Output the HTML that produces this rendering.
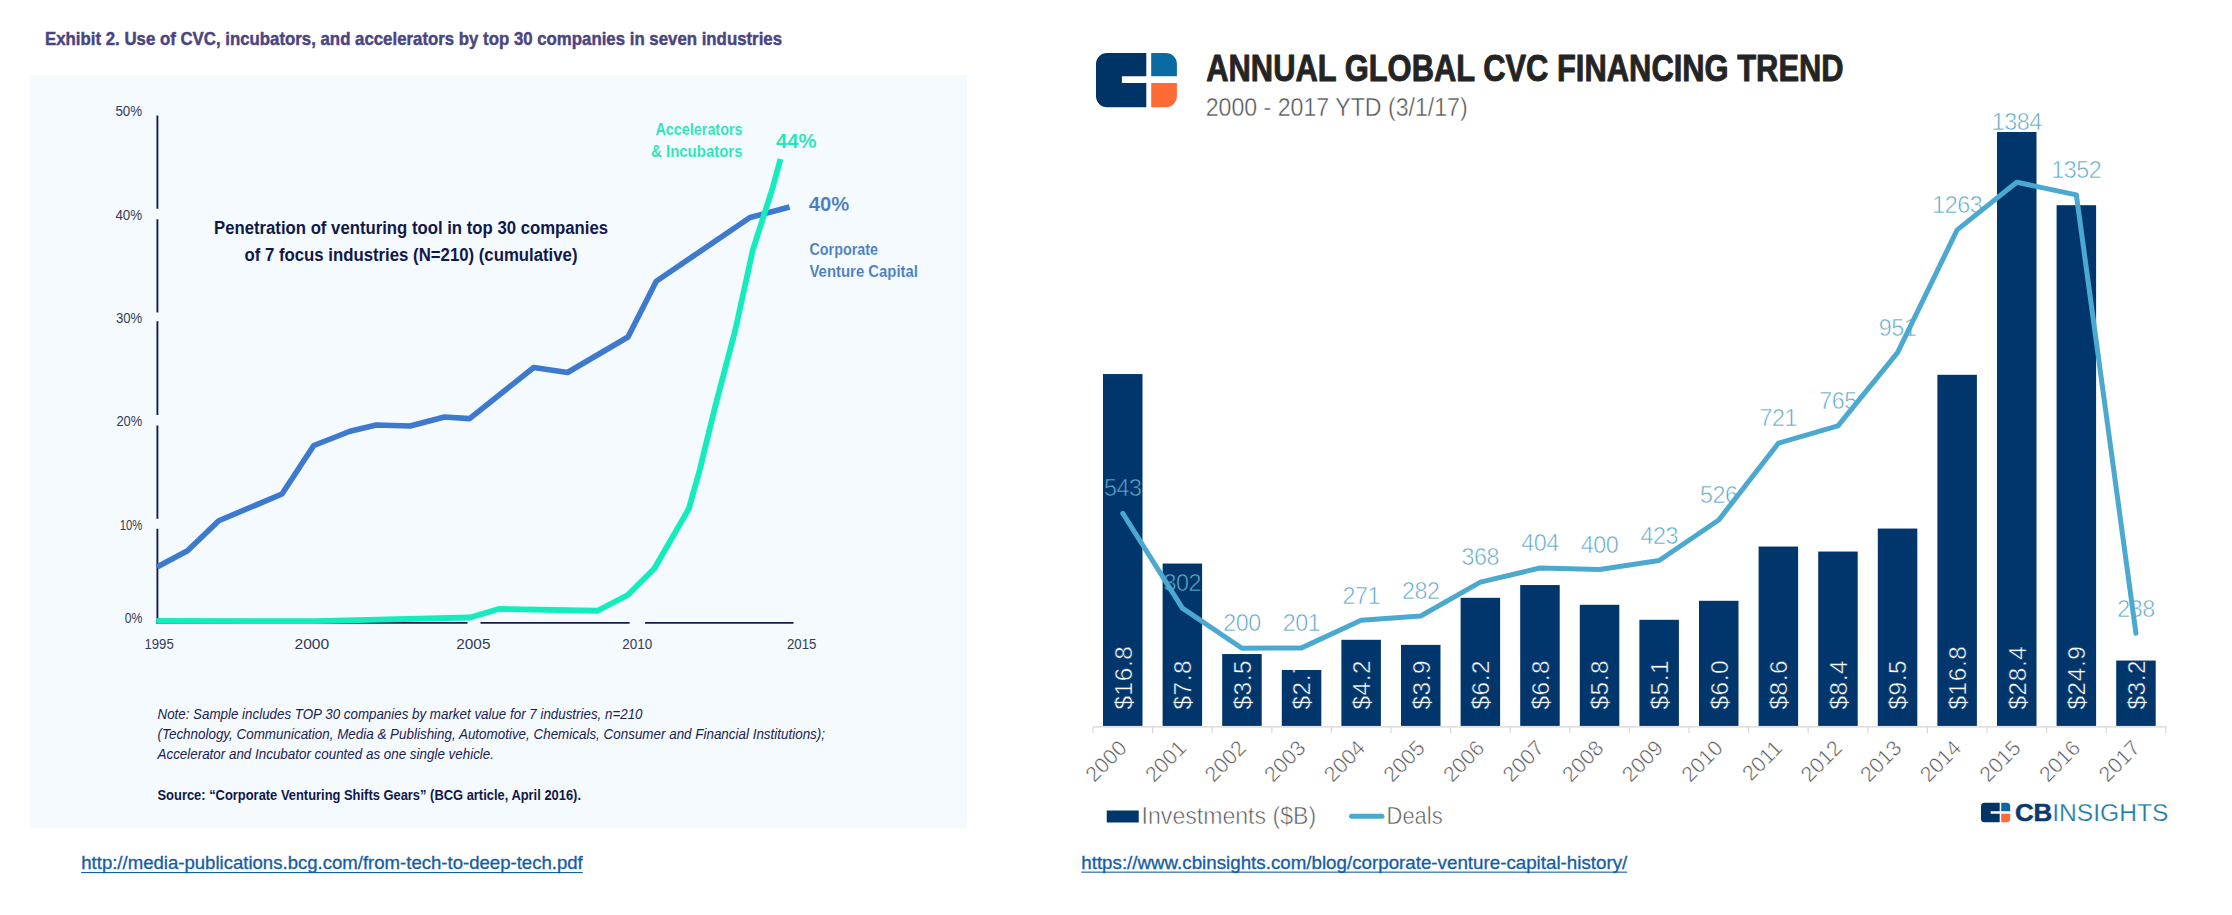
<!DOCTYPE html>
<html lang="en"><head><meta charset="utf-8"><title>CVC charts</title>
<style>html,body{margin:0;padding:0;background:#fff;overflow:hidden;width:2232px;height:915px}svg{display:block}</style></head>
<body>
<svg width="2232" height="915" viewBox="0 0 2232 915" font-family="'Liberation Sans', sans-serif">
<rect width="2232" height="915" fill="#ffffff"/>
<rect x="29.6" y="74.8" width="937.4" height="753.5" fill="#f5fafe"/>
<text x="45" y="44.9" font-size="18.6" fill="#4b457f" font-weight="bold" textLength="737" lengthAdjust="spacingAndGlyphs" stroke="#4b457f" stroke-width="0.45">Exhibit 2. Use of CVC, incubators, and accelerators by top 30 companies in seven industries</text>
<line x1="157.4" y1="115.5" x2="157.4" y2="208.75" stroke="#161c4e" stroke-width="1.9"/>
<line x1="157.4" y1="219.25" x2="157.4" y2="312.5" stroke="#161c4e" stroke-width="1.9"/>
<line x1="157.4" y1="321.25" x2="157.4" y2="415" stroke="#161c4e" stroke-width="1.9"/>
<line x1="157.4" y1="425.5" x2="157.4" y2="518.75" stroke="#161c4e" stroke-width="1.9"/>
<line x1="157.4" y1="528.75" x2="157.4" y2="624" stroke="#161c4e" stroke-width="1.9"/>
<line x1="156.3" y1="622.9" x2="467.5" y2="622.9" stroke="#161c4e" stroke-width="1.9"/>
<line x1="480.5" y1="622.9" x2="629.6" y2="622.9" stroke="#161c4e" stroke-width="1.9"/>
<line x1="645" y1="622.9" x2="793.5" y2="622.9" stroke="#161c4e" stroke-width="1.9"/>
<text x="115.4" y="116.45" font-size="14.1" fill="#363a56" textLength="26.85" lengthAdjust="spacingAndGlyphs">50%</text>
<text x="115.4" y="219.7" font-size="14.1" fill="#363a56" textLength="26.85" lengthAdjust="spacingAndGlyphs">40%</text>
<text x="115.9" y="322.7" font-size="14.1" fill="#363a56" textLength="26.35" lengthAdjust="spacingAndGlyphs">30%</text>
<text x="116.4" y="426.45" font-size="14.1" fill="#363a56" textLength="25.85" lengthAdjust="spacingAndGlyphs">20%</text>
<text x="119.65" y="530.2" font-size="14.1" fill="#363a56" textLength="22.6" lengthAdjust="spacingAndGlyphs">10%</text>
<text x="124.65" y="622.7" font-size="14.1" fill="#363a56" textLength="17.6" lengthAdjust="spacingAndGlyphs">0%</text>
<text x="144.5" y="648.8" font-size="14.3" fill="#363a56" textLength="29.25" lengthAdjust="spacingAndGlyphs">1995</text>
<text x="294.5" y="648.8" font-size="14.3" fill="#363a56" textLength="34.75" lengthAdjust="spacingAndGlyphs">2000</text>
<text x="456.25" y="648.8" font-size="14.3" fill="#363a56" textLength="34.25" lengthAdjust="spacingAndGlyphs">2005</text>
<text x="622.3" y="648.8" font-size="14.3" fill="#363a56" textLength="30.0" lengthAdjust="spacingAndGlyphs">2010</text>
<text x="787" y="648.8" font-size="14.3" fill="#363a56" textLength="29.5" lengthAdjust="spacingAndGlyphs">2015</text>
<polyline fill="none" stroke="#3d79cc" stroke-width="5.6" stroke-linejoin="round" points="157,567 187.5,550.75 218.75,520.75 282,494 313.75,445.5 350,431.25 376.25,425 410,426 444.5,417 469.6,418.6 533.75,367.5 567.5,372.5 628,337 656.25,281.25 750,217.5 789.5,207"/>
<polyline fill="none" stroke="#14ecbe" stroke-width="5.8" stroke-linejoin="round" points="156.3,620.9 315,621.2 470,617.5 498.75,609 597.5,610.75 627.8,595 654.2,568.8 688.8,508.9 699.7,470 715.2,406.5 735.3,330 752.9,249.6 772,190 780.5,159"/>
<text x="655.5" y="134.5" font-size="15.8" fill="#22e6b8" font-weight="bold" textLength="87" lengthAdjust="spacingAndGlyphs" stroke="#f5fafe" stroke-width="0.12">Accelerators</text>
<text x="651" y="156.5" font-size="15.8" fill="#22e6b8" font-weight="bold" textLength="91.5" lengthAdjust="spacingAndGlyphs" stroke="#f5fafe" stroke-width="0.12">&amp; Incubators</text>
<text x="776" y="148" font-size="20" fill="#22e6b8" font-weight="bold" textLength="40.5" lengthAdjust="spacingAndGlyphs" stroke="#f5fafe" stroke-width="0.12">44%</text>
<text x="808.75" y="210.5" font-size="20" fill="#477cc2" font-weight="bold" textLength="40.5" lengthAdjust="spacingAndGlyphs" stroke="#f5fafe" stroke-width="0.12">40%</text>
<text x="809.5" y="254.5" font-size="15.8" fill="#477cc2" font-weight="bold" textLength="68.5" lengthAdjust="spacingAndGlyphs" stroke="#f5fafe" stroke-width="0.12">Corporate</text>
<text x="809.5" y="276.7" font-size="15.8" fill="#477cc2" font-weight="bold" textLength="108.5" lengthAdjust="spacingAndGlyphs" stroke="#f5fafe" stroke-width="0.12">Venture Capital</text>
<text x="214" y="233.75" font-size="17.6" fill="#10184a" font-weight="bold" textLength="394" lengthAdjust="spacingAndGlyphs">Penetration of venturing tool in top 30 companies</text>
<text x="244.5" y="260.5" font-size="17.6" fill="#10184a" font-weight="bold" textLength="333" lengthAdjust="spacingAndGlyphs">of 7 focus industries (N=210) (cumulative)</text>
<text x="157.5" y="718.5" font-size="13.8" fill="#1a2150" font-style="italic" textLength="485" lengthAdjust="spacingAndGlyphs">Note: Sample includes TOP 30 companies by market value for 7 industries, n=210</text>
<text x="157.5" y="738.7" font-size="13.8" fill="#1a2150" font-style="italic" textLength="667.5" lengthAdjust="spacingAndGlyphs">(Technology, Communication, Media &amp; Publishing, Automotive, Chemicals, Consumer and Financial Institutions);</text>
<text x="157.5" y="758.6" font-size="13.8" fill="#1a2150" font-style="italic" textLength="336.5" lengthAdjust="spacingAndGlyphs">Accelerator and Incubator counted as one single vehicle.</text>
<text x="157.5" y="799.6" font-size="14.6" fill="#10184a" font-weight="bold" textLength="423.5" lengthAdjust="spacingAndGlyphs">Source: “Corporate Venturing Shifts Gears” (BCG article, April 2016).</text>
<text x="81.25" y="869.25" font-size="18.2" fill="#145ca5" textLength="501.5" lengthAdjust="spacingAndGlyphs" stroke="#145ca5" stroke-width="0.3">http://media-publications.bcg.com/from-tech-to-deep-tech.pdf</text>
<rect x="81.25" y="872" width="501.5" height="1.1" fill="#145ca5"/>
<path fill="#003366" d="M1107,53.1 H1146.3 V76.3 H1121.9045 V82.9 H1146.3 V107.2 H1107 A11,11 0 0 1 1096,96.2 V64.1 A11,11 0 0 1 1107,53.1 Z"/>
<path fill="#0a6ba3" d="M1151.2,53.1 H1165.9 A11,11 0 0 1 1176.9,64.1 V76.3 H1151.2 Z"/>
<path fill="#ff6b35" d="M1151.2,82.9 H1176.9 V96.2 A11,11 0 0 1 1165.9,107.2 H1151.2 Z"/>
<text x="1206.2" y="81.1" font-size="37.3" fill="#242424" font-weight="bold" textLength="637.5" lengthAdjust="spacingAndGlyphs" stroke="#242424" stroke-width="0.9" stroke-linejoin="round">ANNUAL GLOBAL CVC FINANCING TREND</text>
<text x="1205.7" y="115.75" font-size="25.4" fill="#555555" textLength="262" lengthAdjust="spacingAndGlyphs" stroke="#ffffff" stroke-width="0.4">2000 - 2017 YTD (3/1/17)</text>
<defs>
<clipPath id="cb"><rect x="1103.00" y="374.05" width="39.5" height="351.85"/><rect x="1162.60" y="563.55" width="39.5" height="162.35"/><rect x="1222.20" y="654.05" width="39.5" height="71.85"/><rect x="1281.80" y="670" width="39.5" height="55.90"/><rect x="1341.40" y="639.8" width="39.5" height="86.10"/><rect x="1401.00" y="644.9" width="39.5" height="81.00"/><rect x="1460.60" y="597.8" width="39.5" height="128.10"/><rect x="1520.20" y="585.05" width="39.5" height="140.85"/><rect x="1579.80" y="604.8" width="39.5" height="121.10"/><rect x="1639.40" y="619.8" width="39.5" height="106.10"/><rect x="1699.00" y="600.8" width="39.5" height="125.10"/><rect x="1758.60" y="546.55" width="39.5" height="179.35"/><rect x="1818.20" y="551.55" width="39.5" height="174.35"/><rect x="1877.80" y="528.55" width="39.5" height="197.35"/><rect x="1937.40" y="374.8" width="39.5" height="351.10"/><rect x="1997.00" y="132" width="39.5" height="593.90"/><rect x="2056.60" y="205.2" width="39.5" height="520.70"/><rect x="2116.20" y="660.55" width="39.5" height="65.35"/></clipPath>
<clipPath id="cn"><path clip-rule="evenodd" d="M1060,90H2232V760H1060Z M1103.00,374.05h39.5v351.85h-39.5Z M1162.60,563.55h39.5v162.35h-39.5Z M1222.20,654.05h39.5v71.85h-39.5Z M1281.80,670h39.5v55.90h-39.5Z M1341.40,639.8h39.5v86.10h-39.5Z M1401.00,644.9h39.5v81.00h-39.5Z M1460.60,597.8h39.5v128.10h-39.5Z M1520.20,585.05h39.5v140.85h-39.5Z M1579.80,604.8h39.5v121.10h-39.5Z M1639.40,619.8h39.5v106.10h-39.5Z M1699.00,600.8h39.5v125.10h-39.5Z M1758.60,546.55h39.5v179.35h-39.5Z M1818.20,551.55h39.5v174.35h-39.5Z M1877.80,528.55h39.5v197.35h-39.5Z M1937.40,374.8h39.5v351.10h-39.5Z M1997.00,132h39.5v593.90h-39.5Z M2056.60,205.2h39.5v520.70h-39.5Z M2116.20,660.55h39.5v65.35h-39.5Z"/></clipPath>
</defs>
<rect x="1103.00" y="374.05" width="39.5" height="351.85" fill="#00366b"/>
<rect x="1162.60" y="563.55" width="39.5" height="162.35" fill="#00366b"/>
<rect x="1222.20" y="654.05" width="39.5" height="71.85" fill="#00366b"/>
<rect x="1281.80" y="670" width="39.5" height="55.90" fill="#00366b"/>
<rect x="1341.40" y="639.8" width="39.5" height="86.10" fill="#00366b"/>
<rect x="1401.00" y="644.9" width="39.5" height="81.00" fill="#00366b"/>
<rect x="1460.60" y="597.8" width="39.5" height="128.10" fill="#00366b"/>
<rect x="1520.20" y="585.05" width="39.5" height="140.85" fill="#00366b"/>
<rect x="1579.80" y="604.8" width="39.5" height="121.10" fill="#00366b"/>
<rect x="1639.40" y="619.8" width="39.5" height="106.10" fill="#00366b"/>
<rect x="1699.00" y="600.8" width="39.5" height="125.10" fill="#00366b"/>
<rect x="1758.60" y="546.55" width="39.5" height="179.35" fill="#00366b"/>
<rect x="1818.20" y="551.55" width="39.5" height="174.35" fill="#00366b"/>
<rect x="1877.80" y="528.55" width="39.5" height="197.35" fill="#00366b"/>
<rect x="1937.40" y="374.8" width="39.5" height="351.10" fill="#00366b"/>
<rect x="1997.00" y="132" width="39.5" height="593.90" fill="#00366b"/>
<rect x="2056.60" y="205.2" width="39.5" height="520.70" fill="#00366b"/>
<rect x="2116.20" y="660.55" width="39.5" height="65.35" fill="#00366b"/>
<path d="M1093,726.9 H2166.4" stroke="#d6d4d4" stroke-width="1.2" fill="none"/>
<line x1="1093.00" y1="726.9" x2="1093.00" y2="733" stroke="#dad8d8" stroke-width="1.2"/>
<line x1="1152.60" y1="726.9" x2="1152.60" y2="733" stroke="#dad8d8" stroke-width="1.2"/>
<line x1="1212.20" y1="726.9" x2="1212.20" y2="733" stroke="#dad8d8" stroke-width="1.2"/>
<line x1="1271.80" y1="726.9" x2="1271.80" y2="733" stroke="#dad8d8" stroke-width="1.2"/>
<line x1="1331.40" y1="726.9" x2="1331.40" y2="733" stroke="#dad8d8" stroke-width="1.2"/>
<line x1="1391.00" y1="726.9" x2="1391.00" y2="733" stroke="#dad8d8" stroke-width="1.2"/>
<line x1="1450.60" y1="726.9" x2="1450.60" y2="733" stroke="#dad8d8" stroke-width="1.2"/>
<line x1="1510.20" y1="726.9" x2="1510.20" y2="733" stroke="#dad8d8" stroke-width="1.2"/>
<line x1="1569.80" y1="726.9" x2="1569.80" y2="733" stroke="#dad8d8" stroke-width="1.2"/>
<line x1="1629.40" y1="726.9" x2="1629.40" y2="733" stroke="#dad8d8" stroke-width="1.2"/>
<line x1="1689.00" y1="726.9" x2="1689.00" y2="733" stroke="#dad8d8" stroke-width="1.2"/>
<line x1="1748.60" y1="726.9" x2="1748.60" y2="733" stroke="#dad8d8" stroke-width="1.2"/>
<line x1="1808.20" y1="726.9" x2="1808.20" y2="733" stroke="#dad8d8" stroke-width="1.2"/>
<line x1="1867.80" y1="726.9" x2="1867.80" y2="733" stroke="#dad8d8" stroke-width="1.2"/>
<line x1="1927.40" y1="726.9" x2="1927.40" y2="733" stroke="#dad8d8" stroke-width="1.2"/>
<line x1="1987.00" y1="726.9" x2="1987.00" y2="733" stroke="#dad8d8" stroke-width="1.2"/>
<line x1="2046.60" y1="726.9" x2="2046.60" y2="733" stroke="#dad8d8" stroke-width="1.2"/>
<line x1="2106.20" y1="726.9" x2="2106.20" y2="733" stroke="#dad8d8" stroke-width="1.2"/>
<line x1="2165.80" y1="726.9" x2="2165.80" y2="733" stroke="#dad8d8" stroke-width="1.2"/>
<g clip-path="url(#cb)" font-size="24.4" fill="#ffffff" stroke="#00366b" stroke-width="0.45" letter-spacing="0.6">
<text transform="translate(1131.55,709.6) rotate(-90)">$16.8</text>
<text transform="translate(1191.15,709.6) rotate(-90)">$7.8</text>
<text transform="translate(1250.75,709.6) rotate(-90)">$3.5</text>
<text transform="translate(1310.35,709.6) rotate(-90)">$2.7</text>
<text transform="translate(1369.95,709.6) rotate(-90)">$4.2</text>
<text transform="translate(1429.55,709.6) rotate(-90)">$3.9</text>
<text transform="translate(1489.15,709.6) rotate(-90)">$6.2</text>
<text transform="translate(1548.75,709.6) rotate(-90)">$6.8</text>
<text transform="translate(1608.35,709.6) rotate(-90)">$5.8</text>
<text transform="translate(1667.95,709.6) rotate(-90)">$5.1</text>
<text transform="translate(1727.55,709.6) rotate(-90)">$6.0</text>
<text transform="translate(1787.15,709.6) rotate(-90)">$8.6</text>
<text transform="translate(1846.75,709.6) rotate(-90)">$8.4</text>
<text transform="translate(1906.35,709.6) rotate(-90)">$9.5</text>
<text transform="translate(1965.95,709.6) rotate(-90)">$16.8</text>
<text transform="translate(2025.55,709.6) rotate(-90)">$28.4</text>
<text transform="translate(2085.15,709.6) rotate(-90)">$24.9</text>
<text transform="translate(2144.75,709.6) rotate(-90)">$3.2</text>
</g>
<g clip-path="url(#cn)" font-size="23.3" fill="#5fa8c8" stroke="#ffffff" stroke-width="0.55" letter-spacing="-0.45" text-anchor="middle">
<text x="1122.75" y="496.48">543</text>
<text x="1182.35" y="591.33">302</text>
<text x="1241.95" y="631.48">200</text>
<text x="1301.55" y="631.09">201</text>
<text x="1361.15" y="603.53">271</text>
<text x="1420.75" y="599.20">282</text>
<text x="1480.35" y="565.36">368</text>
<text x="1539.95" y="551.19">404</text>
<text x="1599.55" y="552.76">400</text>
<text x="1659.15" y="543.71">423</text>
<text x="1718.75" y="503.17">526</text>
<text x="1778.35" y="426.41">721</text>
<text x="1837.95" y="409.10">765</text>
<text x="1897.55" y="335.89">951</text>
<text x="1957.15" y="213.08">1263</text>
<text x="2016.75" y="129.90">1384</text>
<text x="2076.35" y="178.05">1352</text>
<text x="2135.95" y="616.52">238</text>
</g>
<g clip-path="url(#cb)" font-size="23.3" fill="#5fa8c8" stroke="#00366b" stroke-width="0.55" letter-spacing="-0.45" text-anchor="middle">
<text x="1122.75" y="496.48">543</text>
<text x="1182.35" y="591.33">302</text>
<text x="1241.95" y="631.48">200</text>
<text x="1301.55" y="631.09">201</text>
<text x="1361.15" y="603.53">271</text>
<text x="1420.75" y="599.20">282</text>
<text x="1480.35" y="565.36">368</text>
<text x="1539.95" y="551.19">404</text>
<text x="1599.55" y="552.76">400</text>
<text x="1659.15" y="543.71">423</text>
<text x="1718.75" y="503.17">526</text>
<text x="1778.35" y="426.41">721</text>
<text x="1837.95" y="409.10">765</text>
<text x="1897.55" y="335.89">951</text>
<text x="1957.15" y="213.08">1263</text>
<text x="2016.75" y="129.90">1384</text>
<text x="2076.35" y="178.05">1352</text>
<text x="2135.95" y="616.52">238</text>
</g>
<polyline fill="none" stroke="#4ba9d0" stroke-width="5" stroke-linejoin="round" stroke-linecap="round" points="1122.75,513.28 1182.35,608.13 1241.95,648.28 1301.55,647.89 1361.15,620.33 1420.75,616.00 1480.35,582.16 1539.95,567.99 1599.55,569.56 1659.15,560.51 1718.75,519.97 1778.35,443.21 1837.95,425.90 1897.55,352.69 1957.15,229.88 2016.75,182.26 2076.35,194.85 2135.95,633.32"/>
<g font-size="21.5" fill="#595959" text-anchor="end" stroke="#ffffff" stroke-width="0.5">
<text transform="translate(1128.15,749.4) rotate(-45)">2000</text>
<text transform="translate(1187.75,749.4) rotate(-45)">2001</text>
<text transform="translate(1247.35,749.4) rotate(-45)">2002</text>
<text transform="translate(1306.95,749.4) rotate(-45)">2003</text>
<text transform="translate(1366.55,749.4) rotate(-45)">2004</text>
<text transform="translate(1426.15,749.4) rotate(-45)">2005</text>
<text transform="translate(1485.75,749.4) rotate(-45)">2006</text>
<text transform="translate(1545.35,749.4) rotate(-45)">2007</text>
<text transform="translate(1604.95,749.4) rotate(-45)">2008</text>
<text transform="translate(1664.55,749.4) rotate(-45)">2009</text>
<text transform="translate(1724.15,749.4) rotate(-45)">2010</text>
<text transform="translate(1783.75,749.4) rotate(-45)">2011</text>
<text transform="translate(1843.35,749.4) rotate(-45)">2012</text>
<text transform="translate(1902.95,749.4) rotate(-45)">2013</text>
<text transform="translate(1962.55,749.4) rotate(-45)">2014</text>
<text transform="translate(2022.15,749.4) rotate(-45)">2015</text>
<text transform="translate(2081.75,749.4) rotate(-45)">2016</text>
<text transform="translate(2141.35,749.4) rotate(-45)">2017</text>
</g>
<rect x="1106.75" y="810.5" width="32" height="12" fill="#00366b"/>
<text x="1141.6" y="823.9" font-size="24.2" fill="#595959" textLength="174.5" lengthAdjust="spacingAndGlyphs" stroke="#ffffff" stroke-width="0.55">Investments ($B)</text>
<line x1="1351.5" y1="816.3" x2="1382" y2="816.3" stroke="#4ba9d0" stroke-width="5" stroke-linecap="round"/>
<text x="1386.6" y="823.9" font-size="24.2" fill="#595959" textLength="56" lengthAdjust="spacingAndGlyphs" stroke="#ffffff" stroke-width="0.55">Deals</text>
<path fill="#003366" d="M1984.5,802.7 H1999.7 V811.2 H1990.6305 V813.75 H1999.7 V822.3000000000001 H1984.5 A3.5,3.5 0 0 1 1981,818.8000000000001 V806.2 A3.5,3.5 0 0 1 1984.5,802.7 Z"/>
<path fill="#0a6ba3" d="M2001.2,802.7 H2006.7 A3.5,3.5 0 0 1 2010.2,806.2 V811.2 H2001.2 Z"/>
<path fill="#ff6b35" d="M2001.2,813.75 H2010.2 V818.8000000000001 A3.5,3.5 0 0 1 2006.7,822.3000000000001 H2001.2 Z"/>
<text x="2014.9" y="820.6" font-size="24.4" fill="#0b3a6e" font-weight="bold" textLength="37.4" lengthAdjust="spacingAndGlyphs" stroke="#0b3a6e" stroke-width="0.5">CB</text>
<text x="2052.2" y="820.6" font-size="24.4" fill="#1f7aa8" textLength="116.2" lengthAdjust="spacingAndGlyphs" stroke="#ffffff" stroke-width="0.25">INSIGHTS</text>
<text x="1081.25" y="868.75" font-size="18.2" fill="#145ca5" textLength="546" lengthAdjust="spacingAndGlyphs" stroke="#145ca5" stroke-width="0.3">https://www.cbinsights.com/blog/corporate-venture-capital-history/</text>
<rect x="1081.25" y="871.6" width="546" height="1.1" fill="#145ca5"/>
</svg>
</body></html>
